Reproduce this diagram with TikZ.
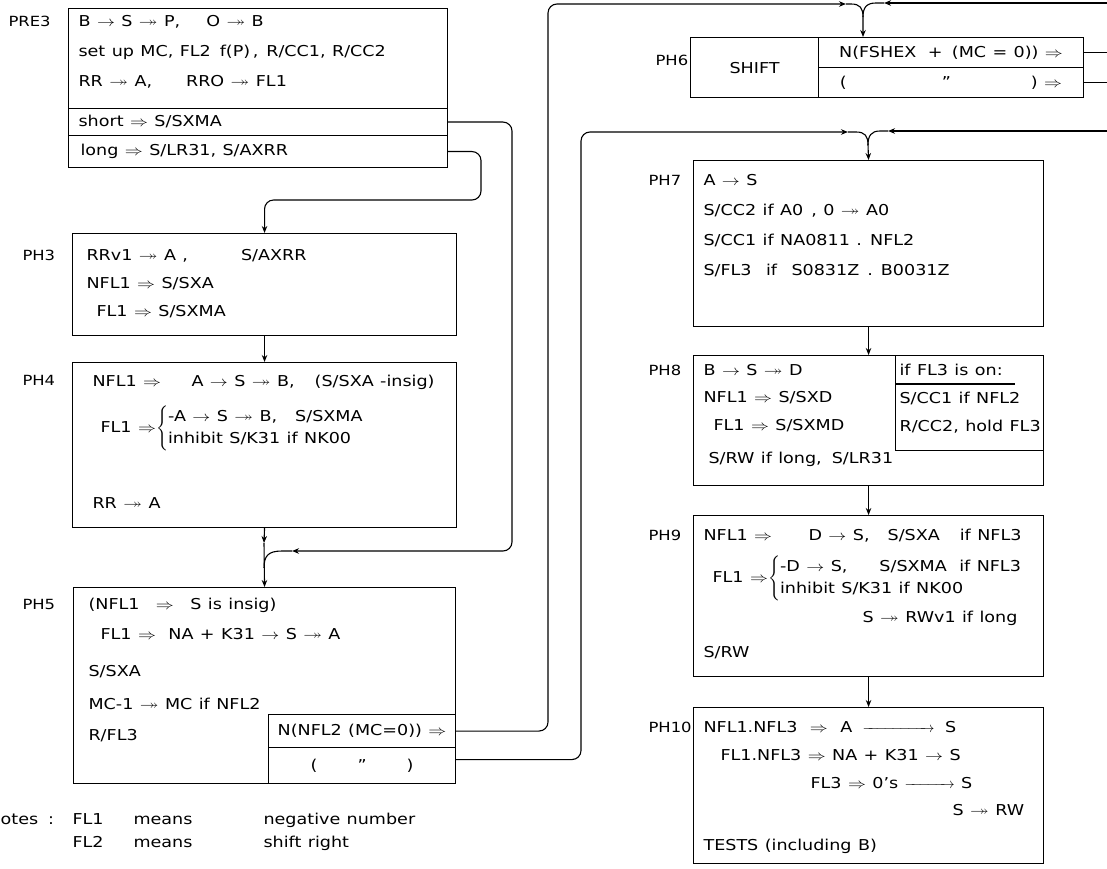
\documentclass[tikz,border=0pt]{standalone}
\usepackage{amsmath,amssymb}
\usepackage{fontspec}
\setmainfont{DejaVu Sans}[FakeStretch=1.17, WordSpace=1.15]
\usetikzlibrary{arrows.meta}

\newcommand{\arr}{\scalebox{1.25}[1]{$\rightarrow$}}
\newcommand{\darr}{\scalebox{1.25}[1]{$\twoheadrightarrow$}}
\newcommand{\imp}{\scalebox{1.25}[1]{$\Rightarrow$}}
\newcommand{\hfs}{\fontsize{15}{18}\selectfont}

\begin{document}
\begin{tikzpicture}[
  x=1pt, y=-1pt,
  >={Stealth[length=7pt, width=5.5pt]},
  line width=1.1pt,
  frame/.style={draw, anchor=north west, inner sep=0pt, font=\hfs},
  txt/.style={anchor=base west, inner sep=0pt, font=\hfs},
  lab/.style={anchor=base west, inner sep=0pt, font=\fontsize{14}{18}\selectfont},
  wire/.style={rounded corners=9pt}
]
\useasboundingbox (0,0) rectangle (1107,869);
\clip (0,0) rectangle (1107,869);

% PRE3
\node[lab] (lpre3) at (8,26.5) {PRE3};
\node[frame, minimum width=379pt, minimum height=100pt] (pre3) at (68,8) {};
\node[frame, minimum width=379pt, minimum height=27pt] (short) at (68,108) {};
\node[frame, minimum width=379pt, minimum height=32pt] (long) at (68,135) {};
\node[txt] (t1) at (78,26.5) {B \arr{} S \darr{} P,\hspace{26pt}O \darr{} B};
\node[txt] (t2) at (78,56.5) {set up MC, FL2 \,f(P)\,,\hspace{8pt}R/CC1, R/CC2};
\node[txt] (t3) at (78,86.5) {RR \darr{} A,\hspace{34pt}RRO \darr{} FL1};
\node[txt] (t4) at (78,126.5) {short \imp{} S/SXMA};
\node[txt] (t5) at (80,155.5) {long \imp{} S/LR31, S/AXRR};

% PH3
\node[lab] (lph3) at (22,260.5) {PH3};
\node[frame, minimum width=384pt, minimum height=102pt] (ph3) at (72,233) {};
\node[txt] (u1) at (86,260.5) {RRv1 \darr{} A ,\hspace{53pt}S/AXRR};
\node[txt] (u2) at (86,288.5) {NFL1 \imp{} S/SXA};
\node[txt] (u3) at (96,316.5) {FL1 \imp{} S/SXMA};

% PH4
\node[lab] (lph4) at (22,385.5) {PH4};
\node[frame, minimum width=384pt, minimum height=165pt] (ph4) at (72,362) {};
\node[txt] (v1) at (92,386.5) {NFL1 \imp\hspace{24pt} A \arr{} S \darr{} B,\hspace{20pt}(S/SXA -insig)};
\node[txt] (v2) at (100,432) {FL1 \imp{}$\left\{\begin{tabular}{@{}l@{}}-A \arr{} S \darr{} B,\hspace{18pt}S/SXMA\\[4pt] inhibit S/K31 if NK00\end{tabular}\right.$};
\node[txt] (v3) at (92,508.5) {RR \darr{} A};

% PH5
\node[lab] (lph5) at (22,609.5) {PH5};
\node[frame, minimum width=382pt, minimum height=196pt] (ph5) at (73,587) {};
\node[txt] (w1) at (88,609.5) {(NFL1\hspace{10pt} \imp\hspace{10pt} S is insig)};
\node[txt] (w2) at (100,639.5) {FL1 \imp{}\hspace{6pt} NA + K31 \arr{} S \darr{} A};
\node[txt] (w3) at (88,676.5) {S/SXA};
\node[txt] (w4) at (88,709.5) {MC-1 \darr{} MC if NFL2};
\node[txt] (w5) at (88,740.5) {R/FL3};
\node[frame, minimum width=187pt, minimum height=33pt] (n5a) at (268,714) {N(NFL2 (MC=0)) \imp};
\node[frame, minimum width=187pt, minimum height=36pt] (n5b) at (268,747) {(\hspace{40pt}"\hspace{40pt})};

% notes
\node[txt] (notes) at (-13,824.5) {Notes\hspace{10pt}:};
\node[txt] (nt1) at (72,824.5) {\makebox[61pt][l]{FL1}\makebox[130pt][l]{means}negative number};
\node[txt] (nt2) at (72,847.5) {\makebox[61pt][l]{FL2}\makebox[130pt][l]{means}shift right};

% PH6
\node[lab] (lph6) at (655,65.5) {PH6};
\node[frame, minimum width=393pt, minimum height=60pt] (ph6) at (690,37) {};
\node[frame, minimum width=128pt, minimum height=60pt] (shift) at (690,37) {SHIFT};
\node[frame, minimum width=265pt, minimum height=30pt] (n6a) at (818,37) {N(FSHEX\hspace{5pt} + \hspace{3pt}(MC = 0)) \imp};
\node[frame, minimum width=265pt, minimum height=30pt] (n6b) at (818,67) {(\hspace{95pt}"\hspace{80pt}) \imp};

% PH7
\node[lab] (lph7) at (648,185.5) {PH7};
\node[frame, minimum width=350pt, minimum height=166pt] (ph7) at (693,160) {};
\node[txt] (x1) at (703,185.5) {A \arr{} S};
\node[txt] (x2) at (703,215.5) {S/CC2 if A0\hspace{8pt}, 0 \darr{} A0};
\node[txt] (x3) at (703,245.5) {S/CC1 if NA0811 . NFL2};
\node[txt] (x4) at (703,275.5) {S/FL3\hspace{8pt} if\hspace{8pt} S0831Z\hspace{8pt}.\hspace{8pt}B0031Z};

% PH8
\node[lab] (lph8) at (648,375.5) {PH8};
\node[frame, minimum width=350pt, minimum height=130pt] (ph8) at (693,355) {};
\node[frame, minimum width=148pt, minimum height=95pt] (fl3) at (895,355) {};
\node[txt] (y1) at (703,375.5) {B \arr{} S \darr{} D};
\node[txt] (y2) at (703,402.5) {NFL1 \imp{} S/SXD};
\node[txt] (y3) at (713,430.5) {FL1 \imp{} S/SXMD};
\node[txt] (y4) at (708,463.5) {S/RW if long,\hspace{10pt}S/LR31};
\node[txt] (z1) at (899,375.5) {if FL3 is on:};
\draw (895,384) -- (1015,384);
\node[txt] (z2) at (899,403.5) {S/CC1 if NFL2};
\node[txt] (z3) at (899,431.5) {R/CC2, hold FL3};

% PH9
\node[lab] (lph9) at (648,540.5) {PH9};
\node[frame, minimum width=350pt, minimum height=161pt] (ph9) at (693,515) {};
\node[txt] (q1) at (703,540.5) {NFL1 \imp\hspace{30pt} D \arr{} S,\hspace{18pt}S/SXA\hspace{20pt}if NFL3};
\node[txt] (q2) at (712,582) {FL1 \imp{}$\left\{\begin{tabular}{@{}l@{}}-D \arr{} S,\hspace{32pt}S/SXMA\hspace{6pt} if NFL3\\[4pt] inhibit S/K31 if NK00\end{tabular}\right.$};
\node[txt] (q3) at (862,622.5) {S \darr{} RWv1 if long};
\node[txt] (q4) at (703,657.5) {S/RW};

% PH10
\node[lab] (lph10) at (648,732.5) {PH10};
\node[frame, minimum width=350pt, minimum height=156pt] (ph10) at (693,707) {};
\node[txt] (r1) at (703,732.5) {NFL1.NFL3\hspace{6pt} \imp\hspace{6pt} A\hspace{4pt} \makebox[72pt]{\rightarrowfill}\hspace{4pt} S};
\node[txt] (r2) at (720,760.5) {FL1.NFL3 \imp{} NA + K31 \arr{} S};
\node[txt] (r3) at (810,788.5) {FL3 \imp{} 0's \makebox[50pt]{\rightarrowfill} S};
\node[txt] (r4) at (952,815.5) {S \darr{} RW};
\node[txt] (r5) at (703,850.5) {TESTS (including B)};

% left column flow
\coordinate (c1) at (512,551);
\coordinate (j5) at (292,551);
\coordinate (m5) at (264,568);
\coordinate (c2) at (481,200);
\coordinate (a5) at (264,543);
\draw[->, wire] (short.east) -| (c1) -- (j5);
\draw (j5) -- (282,551) .. controls (268,551) and (264,556) .. (m5);
\draw[->, wire] (long.east) -| (c2) -| (ph3.north);
\draw[->] (ph3.south) -- (ph4.north);
\draw[->] (ph4.south) -- (a5);
\draw[->] (a5) -- (ph5.north);

% to PH6
\coordinate (c6) at (548,4);
\coordinate (a6) at (846,4);
\coordinate (b6) at (884,3);
\coordinate (r6) at (1107,3);
\coordinate (y6) at (863,17);
\draw[->, wire] (n5a.east) -| (c6) -- (a6);
\draw[->] (a6) -- (851,4) .. controls (860,4) and (863,8) .. (y6) -- (y6 |- ph6.north);
\draw[->] (r6) -- (b6);
\draw (b6) -- (876,3) .. controls (866,3) and (863,8) .. (y6);

% to PH7
\coordinate (c7) at (581,132);
\coordinate (a7) at (848,132);
\coordinate (b7) at (888,131);
\coordinate (r7) at (1107,131);
\coordinate (y7) at (868,145);
\draw[->, wire] ([yshift=6pt]n5b.east) -| (c7) -- (a7);
\draw[->] (a7) -- (856,132) .. controls (865,132) and (868,136) .. (y7) -- (ph7.north);
\draw[->] (r7) -- (b7);
\draw (b7) -- (880,131) .. controls (871,131) and (868,136) .. (y7);

% PH6 exits
\coordinate (e6) at (1107,0);
\draw (n6a.east) -- (n6a.east -| e6);
\draw (n6b.east) -- (n6b.east -| e6);

% right column flow
\draw[->] (ph7.south) -- (ph8.north);
\draw[->] (ph8.south) -- (ph9.north);
\draw[->] (ph9.south) -- (ph10.north);
\end{tikzpicture}
\end{document}
